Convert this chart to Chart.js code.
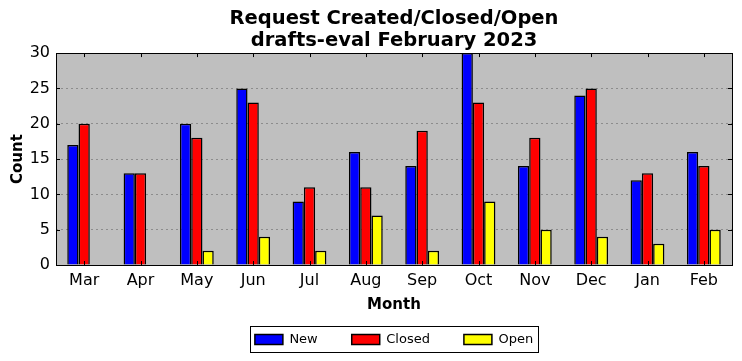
<!DOCTYPE html>
<html>
<head>
<meta charset="utf-8">
<script src="https://cdn.jsdelivr.net/npm/chart.js@4/dist/chart.umd.min.js"></script>
<style>
  html, body { margin: 0; padding: 0; background: #fff; }
  #chart { display: block; }
</style>
</head>
<body>
<canvas id="chart" width="742" height="361"></canvas>
<script>
// chart data
const months = ['Mar', 'Apr', 'May', 'Jun', 'Jul', 'Aug', 'Sep', 'Oct', 'Nov', 'Dec', 'Jan', 'Feb'];
const newCounts = [17, 13, 20, 25, 9, 16, 14, 30, 14, 24, 12, 16];
const closedCounts = [20, 13, 18, 23, 11, 11, 19, 23, 18, 25, 13, 14];
const openCounts = [0, 0, 2, 4, 2, 7, 2, 9, 5, 4, 3, 5];
const yTicks = [0, 5, 10, 15, 20, 25, 30];

const FONT = "'DejaVu Sans', sans-serif";
const LEGEND_PAD = 34;

// grey plot background + black frame with inward ticks (classic look)
const framePlugin = {
    id: 'frame',
    afterLayout(chart) {
        // legend keeps its wide item spacing, but sits higher than its padding would put it
        const lg = chart.legend;
        if (lg) lg.top -= (LEGEND_PAD - 22);
    },
    beforeDraw(chart) {
        const { ctx, chartArea: a } = chart;
        ctx.save();
        ctx.fillStyle = '#bfbfbf';
        ctx.fillRect(a.left, a.top, a.right - a.left, a.bottom - a.top);
        ctx.restore();
    },
    afterDatasetsDraw(chart) {
        const { ctx, chartArea: a, scales } = chart;
        ctx.save();
        ctx.strokeStyle = '#000';
        ctx.lineWidth = 1;
        ctx.beginPath();
        scales.x.ticks.forEach((t, i) => {
            const px = Math.round(scales.x.getPixelForTick(i)) + 0.5;
            ctx.moveTo(px, a.top);
            ctx.lineTo(px, a.top + 4);
            ctx.moveTo(px, a.bottom);
            ctx.lineTo(px, a.bottom - 4);
        });
        yTicks.forEach(v => {
            const py = Math.round(scales.y.getPixelForValue(v)) + 0.5;
            ctx.moveTo(a.left, py);
            ctx.lineTo(a.left + 4, py);
            ctx.moveTo(a.right, py);
            ctx.lineTo(a.right - 4, py);
        });
        ctx.stroke();
        ctx.strokeRect(Math.round(a.left) + 0.5, Math.round(a.top) + 0.5,
            Math.round(a.right - a.left), Math.round(a.bottom - a.top));
        ctx.restore();
    },
    afterDraw(chart) {
        // box around the legend
        const boxes = chart.legend && chart.legend.legendHitBoxes;
        if (!boxes || !boxes.length) return;
        const left = Math.min(...boxes.map(b => b.left)) - 5;
        const right = Math.max(...boxes.map(b => b.left + b.width)) + 5;
        const top = Math.min(...boxes.map(b => b.top)) - 7;
        const bottom = Math.max(...boxes.map(b => b.top + b.height)) + 6;
        const { ctx } = chart;
        ctx.save();
        ctx.strokeStyle = '#000';
        ctx.lineWidth = 1;
        ctx.strokeRect(Math.round(left) + 0.5, Math.round(top) + 0.5,
            Math.round(right - left), Math.round(bottom - top));
        ctx.restore();
    }
};

const makeSet = (label, data, color) => ({
    label,
    data,
    backgroundColor: color,
    borderColor: '#000',
    borderWidth: 1.5,
    borderSkipped: 'bottom',
    categoryPercentage: 0.6,
    barPercentage: 1.0
});

new Chart(document.getElementById('chart'), {
    type: 'bar',
    data: {
        labels: months,
        datasets: [
            makeSet('New', newCounts, '#0000ff'),
            makeSet('Closed', closedCounts, '#ff0000'),
            makeSet('Open', openCounts, '#ffff00')
        ]
    },
    options: {
        responsive: false,
        animation: false,
        devicePixelRatio: 1,
        layout: { padding: { left: 0, right: 10, top: 0, bottom: 10 } },
        plugins: {
            title: {
                display: true,
                fullSize: false,
                text: ['Request Created/Closed/Open', 'drafts-eval February 2023'],
                color: '#000',
                font: { family: FONT, size: 19.5, weight: 'bold', lineHeight: 1.13 },
                padding: { top: 8, bottom: 1 }
            },
            legend: {
                position: 'bottom',
                fullSize: false,
                maxHeight: 40,
                labels: {
                    color: '#000',
                    font: { family: FONT, size: 13 },
                    boxWidth: 28,
                    boxHeight: 10,
                    padding: LEGEND_PAD
                }
            },
            tooltip: { enabled: false }
        },
        scales: {
            x: {
                afterFit(scale) { scale.height = 46; },
                grid: { display: false, drawTicks: false },
                border: { display: false },
                ticks: {
                    color: '#000',
                    font: { family: FONT, size: 16 },
                    padding: 6,
                    maxRotation: 0
                },
                title: {
                    display: true,
                    text: 'Month',
                    color: '#000',
                    font: { family: FONT, size: 15, weight: 'bold' },
                    padding: { top: 0, bottom: -3 }
                }
            },
            y: {
                min: 0,
                max: 30,
                afterFit(scale) { scale.width = 56; },
                afterBuildTicks(scale) { scale.ticks = yTicks.map(v => ({ value: v })); },
                grid: {
                    color: '#8c8c8c',
                    lineWidth: 1,
                    drawTicks: false
                },
                border: { display: false, dash: [2, 3] },
                ticks: {
                    color: '#000',
                    font: { family: FONT, size: 16 },
                    padding: 6
                },
                title: {
                    display: true,
                    text: 'Count',
                    color: '#000',
                    font: { family: FONT, size: 15, weight: 'bold' },
                    padding: { top: 9, bottom: 4 }
                }
            }
        }
    },
    plugins: [framePlugin]
});
</script>
</body>
</html>
